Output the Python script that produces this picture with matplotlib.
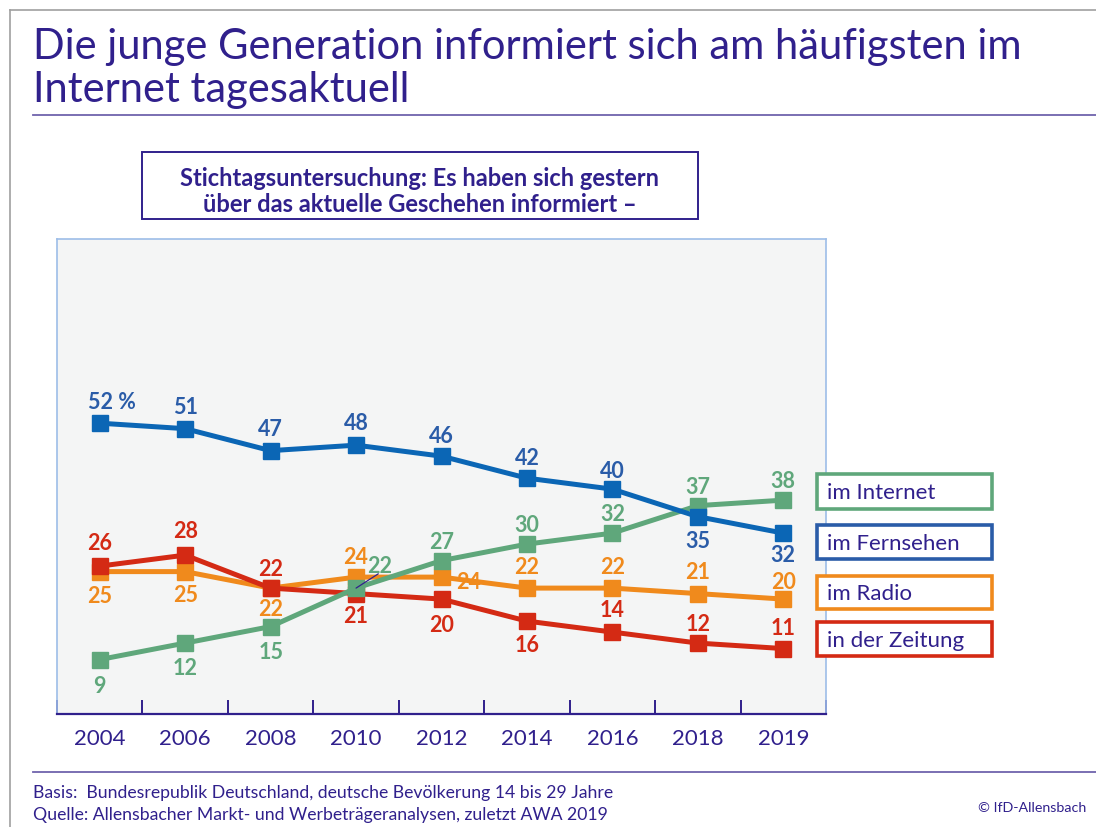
import matplotlib
matplotlib.use("Agg")
import matplotlib.pyplot as plt
from matplotlib.patches import Rectangle
from matplotlib.lines import Line2D

plt.rcParams['font.family'] = ['Lato', 'DejaVu Sans']

years = ["2004", "2006", "2008", "2010", "2012", "2014", "2016", "2018", "2019"]
internet = [9, 12, 15, 22, 27, 30, 32, 37, 38]
fernsehen = [52, 51, 47, 48, 46, 42, 40, 35, 32]
radio = [25, 25, 22, 24, 24, 22, 22, 21, 20]
zeitung = [26, 28, 22, 21, 20, 16, 14, 12, 11]
series_names = ["im Internet", "im Fernsehen", "im Radio", "in der Zeitung"]

title = "Die junge Generation informiert sich am häufigsten im\nInternet tagesaktuell"
subtitle = "Stichtagsuntersuchung: Es haben sich gestern\nüber das aktuelle Geschehen informiert –"
foot1 = "Basis:  Bundesrepublik Deutschland, deutsche Bevölkerung 14 bis 29 Jahre"
foot2 = "Quelle: Allensbacher Markt- und Werbeträgeranalysen, zuletzt AWA 2019"
copyright_txt = "© IfD-Allensbach"

C_TXT = '#30208c'
C_GREEN = '#5fa77b'
C_BLUE = '#0b66b5'
C_BLUE_T = '#2a5ca8'
C_ORANGE = '#f08a1c'
C_RED = '#d42a14'

W, H = 1096, 828
fig = plt.figure(figsize=(W / 100, H / 100), dpi=100)

def fx(px):
    return px / W

def fy(py):
    return 1 - py / H

# outer frame
fig.add_artist(Line2D([fx(10), 1], [fy(11), fy(11)], color='#a0a0a0', lw=1.2))
fig.add_artist(Line2D([fx(10), fx(10)], [fy(11), 0], color='#a0a0a0', lw=1.2))

# title
t_lines = title.split("\n")
fig.text(fx(33), fy(47), t_lines[0], ha='left', va='center', fontsize=30,
         color=C_TXT, fontweight='normal')
fig.text(fx(33), fy(90), t_lines[1], ha='left', va='center', fontsize=30,
         color=C_TXT, fontweight='normal')
fig.add_artist(Line2D([fx(33), 1], [fy(116), fy(116)], color='#6f63ad', lw=1.3))

# subtitle box
fig.add_artist(Rectangle((fx(142), fy(220)), fx(698) - fx(142), fy(153) - fy(220),
                         transform=fig.transFigure, fill=False, ec=C_TXT, lw=1.4))
sub_lines = subtitle.split("\n")
fig.text(fx(420), fy(178), sub_lines[0], ha='center', va='center', fontsize=17,
         fontweight='bold', color=C_TXT)
fig.text(fx(420), fy(204), sub_lines[1], ha='center', va='center', fontsize=17,
         fontweight='bold', color=C_TXT)

# axes
x0, x1, ytop, ybot = 57, 826, 240, 715
ax = fig.add_axes([fx(x0), fy(ybot), fx(x1) - fx(x0), fy(ytop) - fy(ybot)])
ax.set_facecolor('#f4f5f5')
ax.set_xlim(-0.5, 8.5)
ax.set_ylim(-0.9, 85.5)
for s in ['left', 'right', 'top']:
    ax.spines[s].set_color('#9dbde8')
    ax.spines[s].set_linewidth(1.2)
ax.spines['bottom'].set_color(C_TXT)
ax.spines['bottom'].set_linewidth(1.6)
ax.set_yticks([])
xs = list(range(len(years)))
ax.set_xticks(xs)
ax.set_xticklabels(years, fontsize=16, color=C_TXT)
ax.tick_params(axis='x', length=0, pad=10)
ax.set_xticks([i + 0.5 for i in range(-1, len(years))], minor=True)
ax.tick_params(axis='x', which='minor', direction='in', length=10, width=1.4, color=C_TXT)

def plot_series(vals, color):
    ax.plot(xs, vals, color=color, lw=3.6, marker='s', ms=11, mec=color, mfc=color,
            solid_joinstyle='miter', clip_on=False, zorder=3)

plot_series(radio, C_ORANGE)
plot_series(zeitung, C_RED)
plot_series(internet, C_GREEN)
plot_series(fernsehen, C_BLUE)

def lab(i, v, txt, color, dx, dy, ha='center'):
    ax.annotate(txt, (i, v), xytext=(dx, -dy), textcoords='offset pixels',
                ha=ha, va='center', fontsize=15.5, fontweight='bold', color=color,
                zorder=5)

# Fernsehen labels
f_off = [-22, -22, -22, -23, -21, -21, -19, 24, 21]
for i, v in enumerate(fernsehen):
    txt = f"{v} %" if i == 0 else str(v)
    dx = 12 if i == 0 else 0
    lab(i, v, txt, C_BLUE_T, dx, f_off[i])

# Internet labels
i_off = [26, 24, 25, None, -19, -20, -20, -19, -20]
for i, v in enumerate(internet):
    if i_off[i] is None:
        continue
    lab(i, v, str(v), C_GREEN, 0, i_off[i])
# 2010 internet label with leader line
ax.annotate(str(internet[3]), (3, internet[3]), xytext=(24, 23), textcoords='offset pixels',
            ha='center', va='center', fontsize=15.5, fontweight='bold', color=C_GREEN,
            zorder=5)
ax.annotate('', (3, internet[3]), xytext=(3.26, internet[3] + 2.6),
            arrowprops=dict(arrowstyle='-', color=C_TXT, lw=0.9, shrinkA=0, shrinkB=0),
            zorder=6)

# Radio labels
r_off = [24, 23, 20, -21, None, -22, -22, -22, -18]
for i, v in enumerate(radio):
    if r_off[i] is None:
        lab(i, v, str(v), C_ORANGE, 27, 4)
        continue
    lab(i, v, str(v), C_ORANGE, 0, r_off[i])

# Zeitung labels
z_off = [-24, -25, -20, 22, 25, 23, -23, -20, -21]
for i, v in enumerate(zeitung):
    lab(i, v, str(v), C_RED, 0, z_off[i])

# legend boxes
leg_colors = [C_GREEN, '#2a5ca8', C_ORANGE, C_RED]
leg_y = [(475, 510), (526, 560), (577, 610), (623, 657)]
for name, col, (ya, yb) in zip(series_names, leg_colors, leg_y):
    fig.add_artist(Rectangle((fx(817), fy(yb)), fx(992) - fx(817), fy(ya) - fy(yb),
                             transform=fig.transFigure, fill=True, fc='white',
                             ec=col, lw=2.6, zorder=10))
    fig.text(fx(827), fy((ya + yb) / 2 + 1), name, ha='left', va='center',
             fontsize=16, color=C_TXT, zorder=11)

# footer
fig.add_artist(Line2D([fx(33), 1], [fy(773), fy(773)], color='#6f63ad', lw=1.3))
fig.text(fx(33), fy(793), foot1, ha='left', va='center', fontsize=12.7, color=C_TXT)
fig.text(fx(33), fy(815), foot2, ha='left', va='center', fontsize=12.7, color=C_TXT)
fig.text(fx(1086), fy(808), copyright_txt, ha='right', va='center', fontsize=10.3, color=C_TXT)

fig.savefig('out.png', dpi=100)
